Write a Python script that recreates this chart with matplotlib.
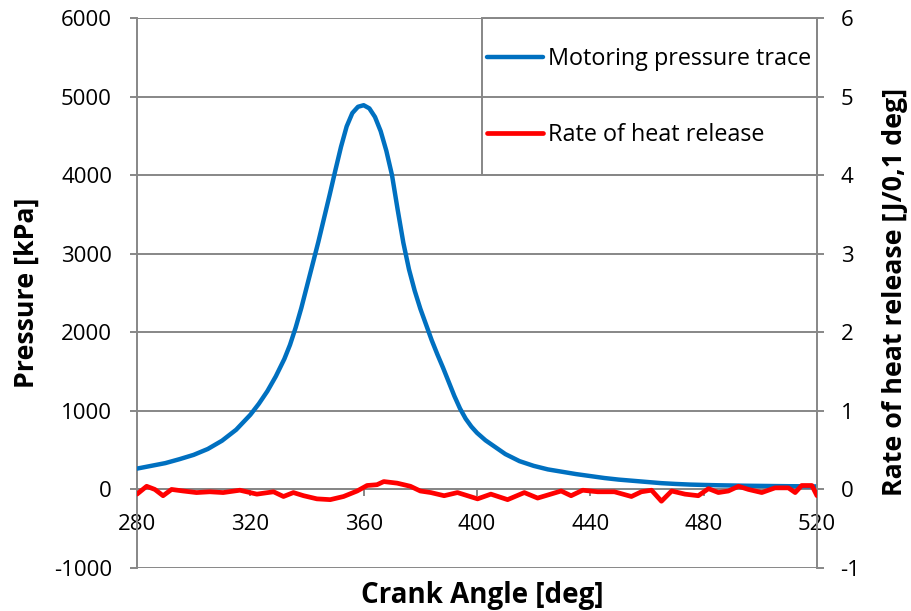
import matplotlib
matplotlib.use("Agg")
import matplotlib.pyplot as plt
from matplotlib.patches import Rectangle
from matplotlib.ticker import FuncFormatter

plt.rcParams['font.family'] = ['Open Sans', 'DejaVu Sans']
plt.rcParams['axes.unicode_minus'] = False

# Motoring pressure trace [kPa]
crank_p = [280, 285, 290, 295, 300, 305, 310, 315, 320, 323, 326, 329, 332, 334,
           336, 338, 340, 342, 344, 346, 348, 350, 352, 354, 356, 358, 360, 362,
           364, 366, 368, 370, 372, 374, 376, 378, 380, 382, 384, 386, 388, 390,
           392, 394, 396, 398, 400, 403, 406, 410, 415, 420, 425, 430, 435, 440, 445,
           450, 455, 460, 465, 470, 475, 480, 485, 490, 495, 500, 505, 510, 515, 520]
pressure = [265, 300, 335, 385, 440, 515, 620, 760, 950, 1090, 1250, 1440, 1660, 1840,
            2060, 2310, 2590, 2870, 3150, 3450, 3750, 4060, 4360, 4620, 4790, 4870, 4890, 4850,
            4740, 4560, 4310, 4000, 3560, 3140, 2800, 2530, 2300, 2100, 1900, 1720, 1550, 1370,
            1190, 1030, 900, 800, 720, 625, 550, 450, 360, 300, 255, 225, 195, 170, 145,
            125, 110, 95, 80, 70, 62, 57, 53, 50, 47, 45, 43, 41, 40, 38]

# Rate of heat release [J/0,1 deg]
crank_h = [280, 283.4, 286.3, 289.2, 292.2, 296.3, 301, 305.7, 310.4, 316.3, 322.3, 328.2,
           331.7, 335.2, 338.8, 343.5, 348.2, 352.9, 357.7, 361.2, 364.7, 367.1, 371.8,
           376.5, 380, 383.7, 388.4, 393.1, 400.2, 404.9, 410.8, 416.7, 421.4, 429.7,
           433.2, 437.3, 442.6, 448.5, 454.5, 458, 461.6, 465.1, 468.7, 473.4, 478.1,
           481.7, 485.2, 488.7, 492.3, 495.8, 500.5, 505.2, 509.9, 512.3, 514.6, 518.2, 520]
heat = [-0.06, 0.04, 0.0, -0.08, 0.0, -0.02, -0.04, -0.03, -0.04, -0.01, -0.06, -0.03,
        -0.09, -0.04, -0.08, -0.12, -0.13, -0.09, -0.02, 0.05, 0.06, 0.10, 0.08,
        0.04, -0.02, -0.04, -0.08, -0.04, -0.12, -0.06, -0.13, -0.04, -0.11, -0.02,
        -0.08, -0.01, -0.03, -0.03, -0.09, -0.03, -0.01, -0.15, -0.02, -0.06, -0.08,
        0.01, -0.04, -0.02, 0.04, 0.0, -0.04, 0.02, 0.02, -0.04, 0.05, 0.05, -0.08]

x_ticks = [280, 320, 360, 400, 440, 480, 520]
left_ticks = [-1000, 0, 1000, 2000, 3000, 4000, 5000, 6000]
right_ticks = [-1, 0, 1, 2, 3, 4, 5, 6]

GRAY = '#878787'
fig = plt.figure(figsize=(9.11, 6.11), dpi=100)
ax = fig.add_axes([137/911, 1-568/611, (817-137)/911, (568-18)/611])
ax2 = ax.twinx()

ax.set_xlim(280, 520)
ax.set_ylim(-1000, 6000)
ax2.set_ylim(-1, 6)

for yv in left_ticks:
    ax.axhline(yv, color=GRAY, lw=1.4, zorder=0)

ln1, = ax.plot(crank_p, pressure, color='#0070C0', lw=3.2, solid_capstyle='round',
               solid_joinstyle='round', zorder=3)
ln2, = ax2.plot(crank_h, heat, color='#FF0000', lw=3.4, solid_capstyle='round',
                solid_joinstyle='round', zorder=3)

for a in (ax, ax2):
    for s in a.spines.values():
        s.set_visible(False)
ax.spines['left'].set_visible(True)
ax.spines['left'].set_color(GRAY)
ax.spines['left'].set_linewidth(1.4)
ax.spines['bottom'].set_visible(True)
ax.spines['bottom'].set_position(('data', 0))
ax.spines['bottom'].set_color(GRAY)
ax.spines['bottom'].set_linewidth(1.4)
ax2.spines['right'].set_visible(True)
ax2.spines['right'].set_color(GRAY)
ax2.spines['right'].set_linewidth(1.4)

ax.set_xticks(x_ticks)
ax.set_yticks(left_ticks)
ax2.set_yticks(right_ticks)
fmt = FuncFormatter(lambda v, p: '%d' % v)
ax.yaxis.set_major_formatter(fmt)
ax2.yaxis.set_major_formatter(fmt)
ax.tick_params(axis='x', direction='out', length=5, width=1.4, color=GRAY, pad=13, labelsize=16)
ax.tick_params(axis='y', direction='out', length=5, width=1.4, color=GRAY, pad=13, labelsize=16)
ax2.tick_params(axis='y', direction='out', length=5, width=1.4, color=GRAY, pad=12, labelsize=16)

fig.text(27/911, 1-293/611, 'Pressure [kPa]', rotation=90, ha='center', va='center',
         fontsize=19.3, fontweight='bold')
fig.text(895/911, 1-292/611, 'Rate of heat release [J/0,1 deg]', rotation=90, ha='center',
         va='center', fontsize=19.3, fontweight='bold')
fig.text(482/911, 1-595/611, 'Crank Angle [deg]', ha='center', va='center',
         fontsize=20, fontweight='bold')

# legend box
x0 = (482-137)/680
ax.add_patch(Rectangle((x0, 5/7), 1-x0, 2/7, transform=ax.transAxes, fill=False,
                       edgecolor=GRAY, lw=1.4, zorder=1, clip_on=False))
ax2.legend([ln1, ln2], ['Motoring pressure trace', 'Rate of heat release'],
           loc='center left', bbox_to_anchor=((487-137)/680, (568-97)/550),
           frameon=False, fontsize=16.8, handlelength=2.4, handletextpad=0.2,
           labelspacing=2.25, borderpad=0, borderaxespad=0)

fig.savefig('out.png', dpi=100)
